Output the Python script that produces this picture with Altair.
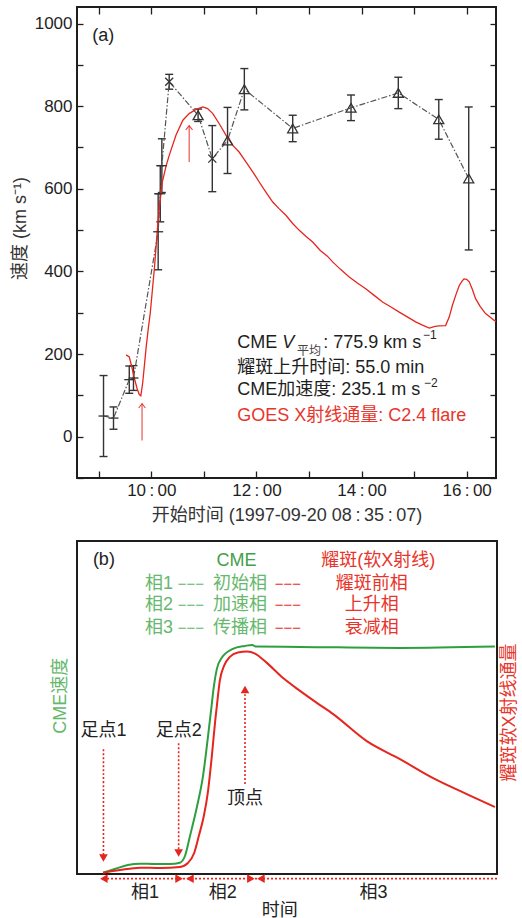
import altair as alt
import pandas as pd

FONT = "Liberation Sans, Noto Sans CJK SC, sans-serif"
INK = "#1e1e1e"
RED = "#e5261e"
RED_TXT = "#e8352b"
GREEN = "#2f9e3f"
GREEN_TXT = "#45a04a"
GREEN_LIGHT = "#66b86c"

# ---------------- panel (a): CME speeds and GOES soft X-ray flux ----------------
cme_hour = [9.09, 9.28, 9.58, 9.66, 10.13, 10.17, 10.20, 10.34, 10.89, 11.16,
            11.45, 11.77, 12.69, 13.80, 14.70, 15.47, 16.04]
cme_speed = [50, 45, 138, 142, 496, 588, 656, 859, 778, 673,
             717, 841, 746, 796, 832, 768, 625]
cme_err = [98, 27, 33, 30, 92, 68, 65, 18, 15, 80,
           80, 50, 32, 31, 38, 48, 173]
cme_marker = ["plus"] * 7 + ["x", "triangle", "x", "triangle", "triangle",
                             "triangle", "triangle", "triangle", "triangle", "triangle"]

goes_hour = [9.52, 9.58, 9.63, 9.68, 9.73, 9.77, 9.80, 9.835, 9.87, 9.90,
             9.94, 9.98, 10.02, 10.06, 10.09, 10.12, 10.15, 10.21, 10.28, 10.34,
             10.47, 10.60, 10.72, 10.85, 10.98, 11.07, 11.17, 11.29, 11.42, 11.55,
             11.67, 11.80, 11.93, 12.05, 12.18, 12.31, 12.43, 12.56, 12.69, 12.81,
             12.94, 13.07, 13.22, 13.35, 13.45, 13.60, 13.76, 13.92, 14.08, 14.24,
             14.40, 14.56, 14.71, 14.87, 15.03, 15.16, 15.29, 15.40, 15.48, 15.60,
             15.67, 15.73, 15.80, 15.86, 15.91, 15.95, 16.00, 16.05, 16.11, 16.17,
             16.26, 16.36, 16.45, 16.52, 16.559]
goes_flux = [198, 193, 168, 140, 116, 102, 99, 130, 175, 215,
             260, 300, 355, 410, 460, 510, 552, 617, 655, 681,
             730, 766, 782, 792, 798, 794, 782, 758, 730, 705,
             689, 665, 641, 617, 592, 568, 552, 536, 516, 500,
             485, 471, 450, 437, 423, 405, 387, 372, 358, 342,
             326, 314, 302, 290, 278, 270, 263, 267, 268, 269,
             290, 318, 345, 366, 376, 382, 381, 375, 356, 334,
             315, 298, 289, 282, 279]

# red arrows: flare onset and rise
arrow_hour = [10.72, 9.823]
arrow_from = [665, -9]
arrow_to = [753, 80]

hour_ticks = [9, 10, 11, 12, 13, 14, 15, 16]
speed_ticks = list(range(-100, 1001, 100))

x_a = alt.Scale(domain=[8.5853, 16.559], nice=False, zero=False)
y_a = alt.Scale(domain=[-100, 1040], nice=False, zero=False)

cme = pd.DataFrame({"hour": cme_hour, "speed": cme_speed, "err": cme_err,
                    "marker": cme_marker})
cme["lo"] = cme["speed"] - cme["err"]
cme["hi"] = cme["speed"] + cme["err"]
cme["order"] = range(len(cme))
goes = pd.DataFrame({"hour": goes_hour, "flux": goes_flux})
goes["order"] = range(len(goes))
arrows = pd.DataFrame({"hour": arrow_hour, "v0": arrow_from, "v1": arrow_to})


def xa(field):
    return alt.X(f"{field}:Q", scale=x_a, axis=None)


def ya(field):
    return alt.Y(f"{field}:Q", scale=y_a, axis=None)


TS = "\u2009"
x_axis_bottom = alt.Axis(
    orient="bottom", values=hour_ticks,
    labelExpr=f"datum.value % 2 == 0 ? datum.value + '{TS}:{TS}00' : ''",
    tickSize=7, offset=-7, domain=False, grid=False, tickColor=INK, tickWidth=1.3,
    labelPadding=4, labelFontSize=17, labelColor=INK, labelOverlap=False, labelFlush=False,
    title=f"开始时间 (1997-09-20 08{TS}:{TS}35{TS}:{TS}07)", titleFontSize=18,
    titleFontWeight="normal", titleColor="#333333", titlePadding=8)
y_axis_left = alt.Axis(
    orient="left", values=speed_ticks, format="d",
    labelExpr="datum.value >= 0 && datum.value % 200 == 0 ? datum.label : ''",
    tickSize=6, offset=-6, domain=False, grid=False, tickColor=INK, tickWidth=1.3,
    labelPadding=5, labelFontSize=17, labelColor=INK, labelOverlap=False, labelFlush=False,
    title="速度 (km s⁻¹)", titleFontSize=18, titleFontWeight="normal",
    titleColor="#333333", titlePadding=5, titleY=221)
x_axis_top = alt.Axis(orient="top", values=hour_ticks, labels=False, tickSize=7,
                      offset=-7, domain=False, grid=False, tickColor=INK,
                      tickWidth=1.3, title=None)
y_axis_right = alt.Axis(orient="right", values=speed_ticks, labels=False, tickSize=6,
                        offset=-6, domain=False, grid=False, tickColor=INK,
                        tickWidth=1.3, title=None)

goes_line = alt.Chart(goes).mark_line(color=RED, strokeWidth=1.3).encode(
    x=alt.X("hour:Q", scale=x_a, axis=x_axis_bottom),
    y=alt.Y("flux:Q", scale=y_a, axis=y_axis_left),
    order="order:Q")

err_rules = alt.Chart(cme).mark_rule(color="#333333", strokeWidth=1.4).encode(
    x=xa("hour"), y=ya("lo"), y2="hi:Q")

caps = alt.Chart(cme).transform_fold(["lo", "hi"], as_=["end", "val"]).mark_point(
    shape="M-1,0L1,0", size=64, filled=False, color="#333333", strokeWidth=1.4,
    opacity=1).encode(x=xa("hour"), y=ya("val"))

link = alt.Chart(cme).mark_line(color="#555555", strokeWidth=1.2,
                                strokeDash=[6, 2, 1.5, 2]).encode(
    x=xa("hour"), y=ya("speed"), order="order:Q")

markers = alt.Chart(cme).mark_point(filled=False, size=100, strokeWidth=1.3,
                                    color="#333333", opacity=1).encode(
    x=xa("hour"), y=ya("speed"),
    shape=alt.Shape("marker:N", legend=None, scale=alt.Scale(
        domain=["plus", "x", "triangle"],
        range=["M-1,0L1,0", "M-0.8,-0.8L0.8,0.8M-0.8,0.8L0.8,-0.8", "triangle-up"])))

arrow_shafts = alt.Chart(arrows).mark_rule(color=RED, strokeWidth=1.1, opacity=0.85).encode(
    x=xa("hour"), y=ya("v0"), y2="v1:Q")
arrow_heads = alt.Chart(arrows).mark_point(shape="M-1,1.3L0,0L1,1.3", size=45,
                                           filled=False, color=RED, strokeWidth=1.1,
                                           opacity=0.85).encode(x=xa("hour"), y=ya("v1"))


def texts(df, xs, ys, **mark):
    return alt.Chart(df).mark_text(**mark).encode(
        x=alt.X("x:Q", scale=xs, axis=None), y=alt.Y("y:Q", scale=ys, axis=None),
        text="text:N")


tag_a = texts(pd.DataFrame({"x": [9.087], "y": [969], "text": ["(a)"]}), x_a, y_a,
              fontSize=18, color=INK)
notes = texts(pd.DataFrame({
    "x": [11.635, 13.27, 11.635, 11.635],
    "y": [227, 227, 167, 112],
    "text": ["CME", ": 775.9 km s", "耀斑上升时间: 55.0 min", "CME加速度: 235.1 m s"]}),
    x_a, y_a, fontSize=18, color=INK, align="left")
notes_v = texts(pd.DataFrame({"x": [12.49], "y": [227], "text": ["V"]}), x_a, y_a,
                fontSize=18, fontStyle="italic", color=INK, align="left")
notes_sub = texts(pd.DataFrame({"x": [12.77], "y": [207], "text": ["平均"]}), x_a, y_a,
                  fontSize=12, color="#444444", align="left")
notes_sup = texts(pd.DataFrame({"x": [15.17, 15.19], "y": [245, 130],
                                "text": ["−1", "−2"]}), x_a, y_a,
                  fontSize=12, color=INK, align="left")
notes_red = texts(pd.DataFrame({"x": [11.635], "y": [50],
                                "text": ["GOES X射线通量: C2.4 flare"]}), x_a, y_a,
                  fontSize=18, color=RED_TXT, align="left")

frame_ticks = alt.Chart(cme).mark_point(opacity=0).encode(
    x=alt.X("hour:Q", scale=x_a, axis=x_axis_top),
    y=alt.Y("speed:Q", scale=y_a, axis=y_axis_right))

panel_a = alt.layer(
    err_rules, caps, link, goes_line, markers, arrow_shafts, arrow_heads,
    tag_a, notes, notes_v, notes_sub, notes_sup, notes_red, frame_ticks
).resolve_axis(x="independent", y="independent").properties(width=419, height=471)

# ---------------- panel (b): schematic of CME / flare phases ----------------
cme_t = [6.2, 9.0, 12.1, 15.0, 18.6, 22.1, 24.5, 25.7, 26.9, 28.6, 30.0, 31.2,
         31.9, 32.6, 33.3, 34.5, 37.1, 40.0, 41.7, 42.6, 53.1, 76.9, 99.5]
cme_v = [0.4, 1.5, 2.7, 3.1, 3.0, 3.0, 3.4, 5.4, 11.4, 20.4, 29.4, 41.4,
         48.9, 56.5, 61.6, 65.0, 67.6, 68.5, 68.8, 68.3, 68.2, 67.9, 68.3]
flare_t = [6.2, 10.2, 15.0, 19.8, 24.5, 26.4, 27.9, 29.0, 30.2, 31.2, 32.1, 32.9,
           33.3, 34.0, 35.0, 36.4, 38.3, 40.5, 42.4, 45.2, 49.0, 53.1, 57.1, 61.0,
           69.0, 76.9, 84.8, 92.8, 99.5]
flare_v = [0.4, 1.2, 1.9, 1.8, 2.1, 3.3, 6.3, 11.4, 17.4, 24.9, 35.4, 45.9,
           50.5, 58.0, 62.5, 65.2, 66.5, 66.8, 66.2, 63.4, 58.9, 55.0, 51.4, 48.0,
           39.9, 34.5, 28.8, 24.0, 20.1]

pointer_t = [6.3, 24.2, 40.0]
pointer_from = [37.5, 39.3, 27.0]
pointer_to = [5.5, 7.0, 54.0]
head_t = [6.3, 24.2, 40.0, 6.4, 24.3, 26.9, 41.4, 43.8]
head_v = [4.8, 6.3, 55.4, -1.4, -1.4, -1.4, -1.4, -1.4]
head_dir = ["down", "down", "up", "left", "right", "left", "right", "left"]
phase_line_t = [6.2, 100.0]
phase_line_v = -1.4

row_v = [87.0, 80.9, 74.0]
phase_names = ["相1", "相2", "相3"]
cme_phases = ["初始相", "加速相", "传播相"]
flare_phases = ["耀斑前相", "上升相", "衰减相"]
DASHES = "\u2212\u2212\u2212"

x_b = alt.Scale(domain=[0, 100], nice=False, zero=False)
y_b = alt.Scale(domain=[0, 100], nice=False, zero=False)


def xb(field):
    return alt.X(f"{field}:Q", scale=x_b, axis=None)


def yb(field):
    return alt.Y(f"{field}:Q", scale=y_b, axis=None)


cme_curve = alt.Chart(pd.DataFrame({"t": cme_t, "v": cme_v})).mark_line(
    color=GREEN, strokeWidth=2, interpolate="monotone").encode(x=xb("t"), y=yb("v"))
flare_curve = alt.Chart(pd.DataFrame({"t": flare_t, "v": flare_v})).mark_line(
    color=RED, strokeWidth=2, interpolate="monotone").encode(x=xb("t"), y=yb("v"))

pointers = alt.Chart(pd.DataFrame({"t": pointer_t, "v0": pointer_from,
                                   "v1": pointer_to})).mark_rule(
    color=RED, strokeWidth=1.6, strokeDash=[2, 2]).encode(x=xb("t"), y=yb("v0"), y2="v1:Q")
phase_line = alt.Chart(pd.DataFrame({"t0": [phase_line_t[0]], "t1": [phase_line_t[1]],
                                     "v": [phase_line_v]})).mark_rule(
    color=RED, strokeWidth=1.6, strokeDash=[2, 2]).encode(x=xb("t0"), x2="t1:Q", y=yb("v"))

heads_df = pd.DataFrame({"t": head_t, "v": head_v, "dir": head_dir})
head_layers = [
    alt.Chart(heads_df).transform_filter(alt.datum.dir == d).mark_point(
        shape=f"triangle-{d}", filled=True, size=75, color=RED, opacity=1,
        strokeWidth=0).encode(x=xb("t"), y=yb("v"))
    for d in ["down", "up", "left", "right"]
]

b_black = texts(pd.DataFrame({
    "x": [6.4, 6.3, 24.2, 40.0, 16.2, 34.7, 70.6, 48.3],
    "y": [94.2, 42.9, 42.9, 22.5, -5.6, -5.6, -5.6, -11.0],
    "text": ["(b)", "足点1", "足点2", "顶点", "相1", "相2", "相3", "时间"]}),
    x_b, y_b, fontSize=18, color="#222222")
b_cme = texts(pd.DataFrame({"x": [38.0], "y": [94.0], "text": ["CME"]}), x_b, y_b,
              fontSize=18, color=GREEN_TXT)
b_rows_left = texts(pd.DataFrame({"x": [16.2] * 3, "y": row_v, "text": phase_names}),
                    x_b, y_b, fontSize=18, color=GREEN_LIGHT, align="left")
b_rows_gdash = texts(pd.DataFrame({"x": [24.0] * 3, "y": row_v, "text": [DASHES] * 3}),
                     x_b, y_b, fontSize=15, color=GREEN_LIGHT, align="left")
b_rows_cme = texts(pd.DataFrame({"x": [38.8] * 3, "y": row_v, "text": cme_phases}),
                   x_b, y_b, fontSize=18, color=GREEN_LIGHT)
b_rows_rdash = texts(pd.DataFrame({"x": [47.1] * 3, "y": row_v, "text": [DASHES] * 3}),
                     x_b, y_b, fontSize=15, color=RED_TXT, align="left")
b_rows_flare = texts(pd.DataFrame({"x": [71.7] + [70.2] * 3, "y": [94.0] + row_v,
                                   "text": ["耀斑(软X射线)"] + flare_phases}),
                     x_b, y_b, fontSize=18, color=RED_TXT)
b_ylab = texts(pd.DataFrame({"x": [-3.8], "y": [53.5], "text": ["CME速度"]}), x_b, y_b,
               fontSize=18, color=GREEN_LIGHT, angle=270)
b_ylab2 = texts(pd.DataFrame({"x": [103.1], "y": [48.5], "text": ["耀斑软X射线通量"]}),
                x_b, y_b, fontSize=18, color=RED_TXT, angle=270)

panel_b = alt.layer(
    cme_curve, flare_curve, pointers, phase_line, *head_layers,
    b_black, b_cme, b_rows_left, b_rows_gdash, b_rows_cme, b_rows_rdash, b_rows_flare,
    b_ylab, b_ylab2
).properties(width=420, height=333)

chart = alt.vconcat(panel_a, panel_b, spacing=15).properties(
    padding={"left": 10, "top": 5, "right": 0, "bottom": 0}
).configure(font=FONT).configure_view(stroke=INK, strokeWidth=2)

chart.save("out.html", embed_options={"renderer": "svg", "actions": False})
